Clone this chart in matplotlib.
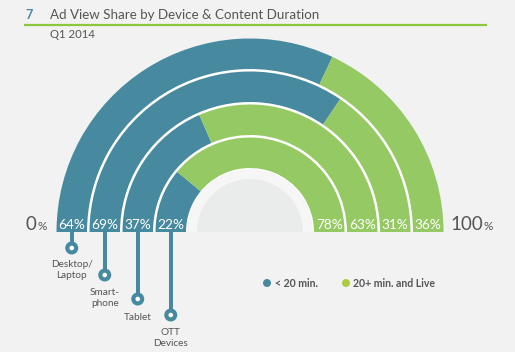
import matplotlib
matplotlib.use("Agg")
import matplotlib.pyplot as plt
from matplotlib.patches import Wedge, Circle, Rectangle

devices = ["Desktop/\nLaptop", "Smart-\nphone", "Tablet", "OTT\nDevices"]
short_share = [64, 69, 37, 22]      # < 20 min.
long_share = [36, 31, 63, 78]       # 20+ min. and Live
legend_labels = ["< 20 min.", "20+ min. and Live"]

BLUE = "#478aa0"
GREEN = "#95c963"
BG = "#f2f2f2"
TXT = "#555555"

W, H = 515, 352
fig = plt.figure(figsize=(W / 100, H / 100), dpi=100, facecolor=BG)
ax = fig.add_axes([0, 0, 1, 1])
ax.set_xlim(0, W)
ax.set_ylim(H, 0)
ax.set_aspect("equal")
ax.axis("off")
ax.set_facecolor(BG)

FONT = "Lato"

# Title
ax.text(25, 15, "7", color=BLUE, fontsize=9, fontweight="bold", family=FONT, va="center", ha="left")
ax.text(50, 15, "Ad View Share by Device & Content Duration", color=TXT, fontsize=9.6,
        family=FONT, va="center", ha="left")
ax.plot([24, 487], [24.5, 24.5], color="#8dc63f", lw=1.6, solid_capstyle="butt")
ax.text(50, 34, "Q1 2014", color=TXT, fontsize=8.2, family=FONT, va="center", ha="left")

cx, cy = 250, 232
outer = 193.5
pitch = 33
ring_w = 30.5

# white gaps behind rings
ax.add_patch(Wedge((cx, cy), outer - ring_w + 0.1, 180, 360, width=outer - ring_w - 62.5,
                   facecolor="white", edgecolor="none"))

for i, (s, l) in enumerate(zip(short_share, long_share)):
    r = outer - i * pitch
    split = 180 + s / (s + l) * 180
    ax.add_patch(Wedge((cx, cy), r, 180, split, width=ring_w, facecolor=BLUE, edgecolor="none"))
    ax.add_patch(Wedge((cx, cy), r, split, 360, width=ring_w, facecolor=GREEN, edgecolor="none"))
    rc = r - ring_w / 2
    ax.text(cx - rc, 225, f"{s}%", color="white", fontsize=9.8, family=FONT,
            ha="center", va="center")
    ax.text(cx + rc, 225, f"{l}%", color="white", fontsize=9.8, family=FONT,
            ha="center", va="center")

# inner circles
ax.add_patch(Wedge((cx, cy), 62, 180, 360, facecolor="#f6f6f6", edgecolor="none"))
ax.add_patch(Wedge((cx, cy), 53, 180, 360, facecolor="#eaecec", edgecolor="none"))

# 0% and 100%
t0 = ax.text(26, 225, "0", color=TXT, fontsize=13.5, family=FONT, va="center", ha="left")
ax.text(38, 227, "%", color=TXT, fontsize=8.5, family=FONT, va="center", ha="left")
ax.text(450, 225, "100", color=TXT, fontsize=13.5, family=FONT, va="center", ha="left")
ax.text(484, 227, "%", color=TXT, fontsize=8.5, family=FONT, va="center", ha="left")

# pins
pin_y = [248, 275, 299, 315]
label_y = [270, 298, 318, 338]
for i, dev in enumerate(devices):
    r = outer - i * pitch
    x = cx - (r - ring_w / 2)
    ax.add_patch(Rectangle((x - 2, cy), 4, pin_y[i] - cy, facecolor=BLUE, edgecolor="none"))
    ax.add_patch(Circle((x, pin_y[i]), 6.5, facecolor=BLUE, edgecolor="none"))
    ax.add_patch(Circle((x, pin_y[i]), 2.3, facecolor="white", edgecolor="none"))
    ax.text(x, label_y[i], dev, color=TXT, fontsize=7.2, family=FONT, ha="center",
            va="center", linespacing=1.3)

# legend
ax.add_patch(Circle((267, 283), 4, facecolor=BLUE, edgecolor="none"))
ax.text(275, 283.5, legend_labels[0], color=TXT, fontsize=7.6, family=FONT, fontweight="bold",
        va="center", ha="left")
ax.add_patch(Circle((346, 283), 4, facecolor="#aacb3e", edgecolor="none"))
ax.text(353, 283.5, legend_labels[1], color=TXT, fontsize=7.6, family=FONT, fontweight="bold",
        va="center", ha="left")

fig.savefig("out.png", dpi=100, facecolor=BG)
